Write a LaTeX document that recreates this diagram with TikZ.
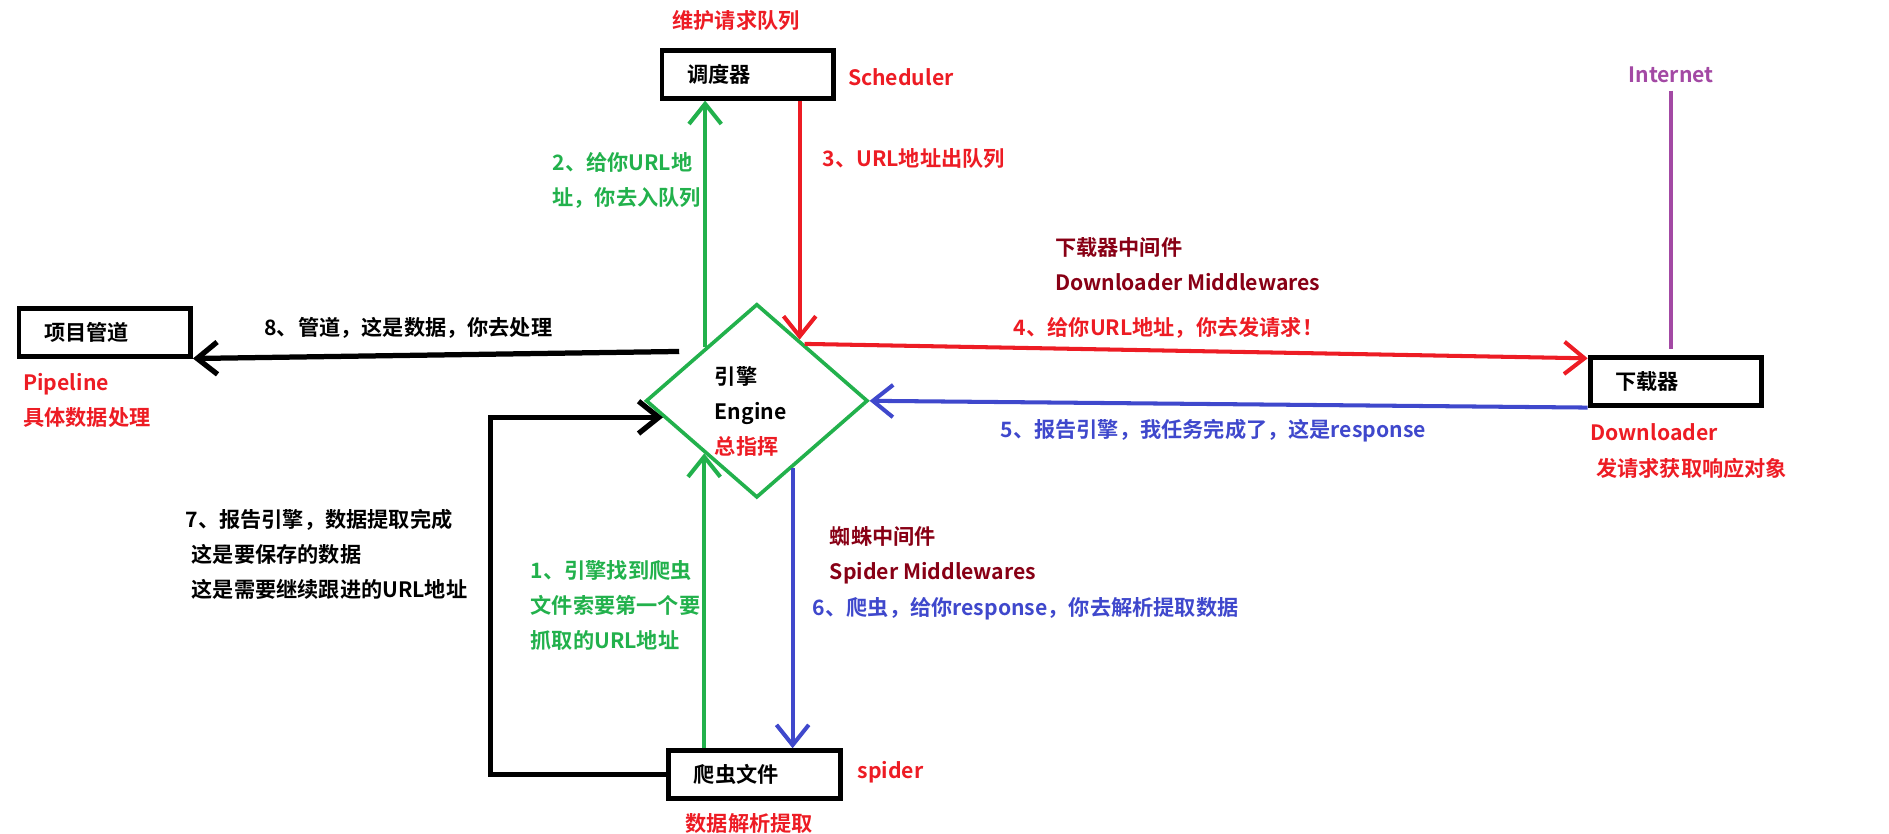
\documentclass[tikz,border=0pt]{standalone}
\usepackage{fontspec}
\setmainfont{Noto Sans CJK SC}[BoldFont={Noto Sans CJK SC Bold}]
\usetikzlibrary{shapes.geometric,arrows.meta}
\definecolor{pgreen}{HTML}{22B14C}
\definecolor{pred}{HTML}{ED1C24}
\definecolor{pblue}{HTML}{3F48CC}
\definecolor{ppurple}{HTML}{A349A4}
\definecolor{pmaroon}{HTML}{880015}

\begin{document}
\begin{tikzpicture}[x=0.6pt,y=-0.6pt,
    every node/.style={inner sep=0pt,font=\bfseries\fontsize{10.5}{17.4}\selectfont},
    box/.style   = {draw,line width=2.4pt,minimum width=85pt,minimum height=23.5pt,
                    text width=60pt,align=left,inner xsep=12.5pt},
    note/.style  = {anchor=west,align=left},
    flow/.style  = {line width=2pt,-{Straight Barb[length=10pt,width=16pt]}},
  ]
  \useasboundingbox (0,0) rectangle (1560,688);

  % components
  \node[box](sched) at (617.5,61.5) {调度器};
  \node[box](pipe) at (86.5,274.5) {项目管道};
  \node[box](dl) at (1384,315) {下载器};
  \node[box](spider) at (623,639.5) {爬虫文件};
  \node[diamond,draw=pgreen,line width=1.8pt,minimum width=110pt,minimum height=96pt](engine) at (625,331) {};
  \node[note](enginetxt) at (590,340) {引擎\\Engine\\\textcolor{pred}{总指挥}};

  % names and roles
  \node[note,text=pred](schedtask) at (555,17) {维护请求队列};
  \node[note,text=pred](schedname) at (700,64) {Scheduler};
  \node[text=ppurple](net) at (1380,62) {Internet};
  \node[note,text=pred](dlname) at (1313,372.5) {Downloader\\\hspace*{3pt}发请求获取响应对象};
  \node[note,text=pred](pipename) at (19,330.5) {Pipeline\\具体数据处理};
  \node[note,text=pred](spname) at (708,638) {spider};
  \node[note,text=pred](sptask) at (566,680) {数据解析提取};
  \node[note,text=pmaroon](dlmw) at (871,218.5) {下载器中间件\\Downloader Middlewares};
  \node[note,text=pmaroon](spmw) at (685,458.5) {蜘蛛中间件\\Spider Middlewares};

  % steps
  \node[note,text=pgreen](step1) at (438,500) {1、引擎找到爬虫\\文件索要第一个要\\抓取的URL地址};
  \node[note,text=pgreen](step2) at (456,149) {2、给你URL地\\址，你去入队列};
  \node[note,text=pred](step3) at (679,131) {3、URL地址出队列};
  \node[note,text=pred](step4) at (837,271) {4、给你URL地址，你去发请求！};
  \node[note,text=pblue](step5) at (826,356) {5、报告引擎，我任务完成了，这是response};
  \node[note,text=pblue](step6) at (671,503) {6、爬虫，给你response，你去解析提取数据};
  \node[note](step7) at (153,457.5) {7、报告引擎，数据提取完成\\\hspace*{3pt}这是要保存的数据\\\hspace*{3pt}这是需要继续跟进的URL地址};
  \node[note](step8) at (218,271) {8、管道，这是数据，你去处理};

  % connectors
  \draw[flow,pgreen] (engine.225 |- spider.north) -- (engine.225);
  \draw[flow,pgreen] (engine.134) -- (engine.134 |- sched.south);
  \draw[flow,pred] (engine.55 |- sched.south) -- (engine.55);
  \draw[flow,pred] (engine.50) -- ([yshift=-1.5pt]dl.north west);
  \draw[flow,pblue] (dl.south west) -- (engine.east);
  \draw[flow,pblue] (engine.-62) -- (engine.-62 |- spider.north);
  \draw[flow,line width=2.6pt] (spider.west) -- ++(-145,0) |- (engine.190);
  \draw[flow,line width=2.6pt] ([xshift=-10.5pt]engine.north west) -- (pipe.south east);
  \draw[ppurple,line width=2pt,shorten <=3.6pt,shorten >=3pt] (net.south) -- (net.south |- dl.north);
\end{tikzpicture}
\end{document}
